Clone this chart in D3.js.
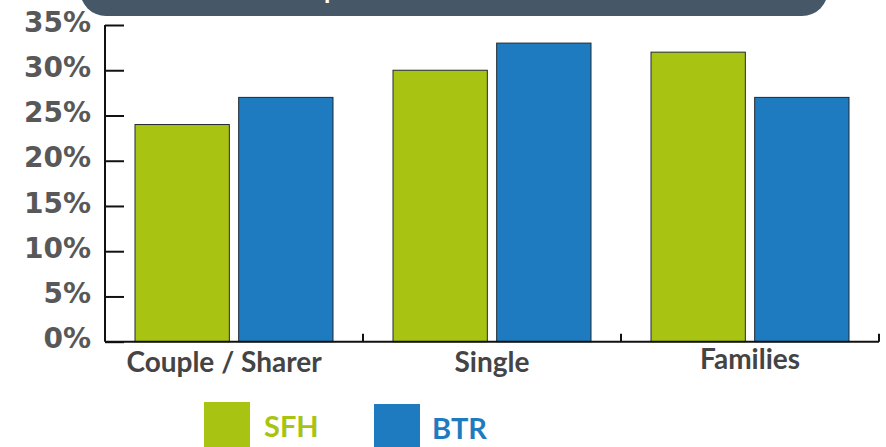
<!doctype html>
<html>
<head>
<style>
  body { margin: 0; background: #fff; }
  svg { display: block; }
</style>
<script src="https://d3js.org/d3.v7.min.js"></script>
</head>
<body>
<div id="chart"></div>
<script>
var categories = ["Couple / Sharer", "Single", "Families"];
var seriesNames = ["SFH", "BTR"];
var sfh = [0.24, 0.30, 0.32];
var btr = [0.27, 0.33, 0.27];
var yTicks = [0, 0.05, 0.10, 0.15, 0.20, 0.25, 0.30, 0.35];
var colors = {SFH: "#a9c313", BTR: "#1f7bbf"};

var W = 886, H = 447;
var svg = d3.select("#chart").append("svg")
  .attr("width", W).attr("height", H);

// title banner (cut off at the top)
svg.append("rect")
  .attr("x", 80).attr("y", -40)
  .attr("width", 748).attr("height", 56)
  .attr("rx", 26)
  .attr("fill", "#465768");
var title = svg.append("text")
  .attr("y", -1.5)
  .style("font-family", "Lato").style("font-weight", "bold")
  .style("font-size", "26px").attr("fill", "#fff");
title.append("tspan").text("Household ");
title.append("tspan").text("profile and tenure mix");
// line the "p" descender up with the fragment visible in the banner
var lead = title.select("tspan").node().getComputedTextLength();
title.attr("x", 324 - lead);

var x0 = d3.scaleBand().domain(categories).range([105, 879]).paddingInner(0).paddingOuter(0);
var x1 = d3.scaleBand().domain(seriesNames).range([30, x0.bandwidth() - 30]).paddingInner(0.09);
var y = d3.scaleLinear().domain([0, 0.35]).range([341.7, 25]);

var rows = categories.map(function(c, i) {
  return {cat: c, values: [{k: "SFH", v: sfh[i]}, {k: "BTR", v: btr[i]}]};
});

var g = svg.selectAll(".grp").data(rows).enter().append("g")
  .attr("transform", function(d) { return "translate(" + x0(d.cat) + ",0)"; });

g.selectAll("rect").data(function(d) { return d.values; }).enter().append("rect")
  .attr("x", function(d) { return x1(d.k); })
  .attr("width", x1.bandwidth())
  .attr("y", function(d) { return y(d.v); })
  .attr("height", function(d) { return y(0) - y(d.v); })
  .attr("fill", function(d) { return colors[d.k]; })
  .attr("stroke", "#1e2a33").attr("stroke-width", 1);

// y axis
var yAxis = svg.append("g")
  .attr("transform", "translate(105,0)")
  .call(d3.axisRight(y).tickValues(yTicks).tickSize(19).tickFormat(""));
yAxis.select(".domain").attr("stroke", "#111").attr("stroke-width", 2).attr("d", "M0," + y(0.35) + "V" + y(0));
yAxis.selectAll(".tick line").attr("stroke", "#111").attr("stroke-width", 2);

svg.append("g").selectAll("text").data(yTicks).enter().append("text")
  .attr("x", 91).attr("y", function(d) { return y(d) - 2.5; })
  .attr("dy", "0.33em")
  .attr("text-anchor", "end")
  .style("font-family", "DejaVu Sans").style("font-weight", "bold")
  .style("font-size", "28px").attr("fill", "#585858")
  .text(function(d) { return d3.format(".0%")(d); });

// x axis
var xAxis = svg.append("g").attr("transform", "translate(0," + y(0) + ")");
xAxis.append("line").attr("x1", 105).attr("x2", 879)
  .attr("stroke", "#111").attr("stroke-width", 2);
xAxis.selectAll(".xt").data(categories).enter().append("line")
  .attr("x1", function(d) { return x0(d) + x0.bandwidth(); })
  .attr("x2", function(d) { return x0(d) + x0.bandwidth(); })
  .attr("y1", 0).attr("y2", -8)
  .attr("stroke", "#111").attr("stroke-width", 2);
xAxis.selectAll(".xl").data(categories).enter().append("text")
  .attr("x", function(d, i) { return x0(d) + x0.bandwidth() / 2 - (i === 0 ? 10 : 0); })
  .attr("y", function(d, i) { return i === 2 ? 27 : 30; })
  .attr("text-anchor", "middle")
  .style("font-family", "Lato").style("font-weight", "bold")
  .style("font-size", "28px").attr("fill", "#444")
  .text(function(d) { return d; });

// legend
var leg = svg.append("g").selectAll("g").data(seriesNames).enter().append("g")
  .attr("transform", function(d, i) { return "translate(" + (204 + i * 170) + "," + (402 + i * 2) + ")"; });
leg.append("rect").attr("width", 46).attr("height", 46)
  .attr("fill", function(d) { return colors[d]; });
leg.append("text").attr("x", function(d, i) { return 60 - i * 2; }).attr("y", 35 - 0)
  .style("font-family", "Lato").style("font-weight", "bold")
  .style("font-size", "29px")
  .attr("fill", function(d) { return colors[d]; })
  .text(function(d) { return d; });
</script>
</body>
</html>
